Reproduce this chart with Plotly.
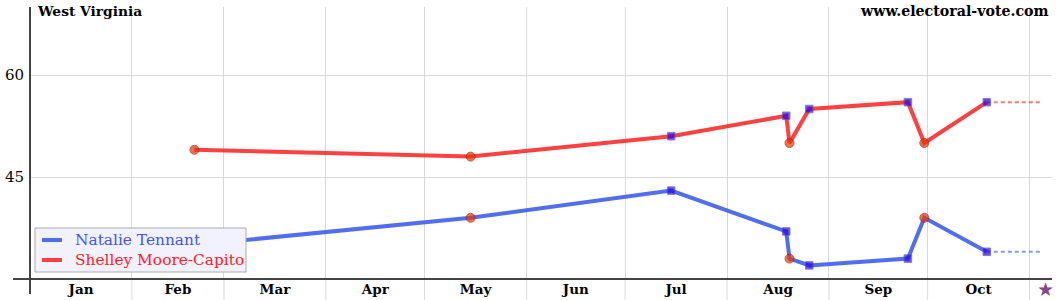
import plotly.graph_objects as go
import pandas as pd

# ---- data ----
poll_dates = ["2014-02-20", "2014-05-15", "2014-07-15", "2014-08-19", "2014-08-20",
              "2014-08-26", "2014-09-25", "2014-09-30", "2014-10-19"]
tennant = [35, 39, 43, 37, 33, 32, 33, 39, 34]
capito = [49, 48, 51, 54, 50, 55, 56, 50, 56]
poll_kind = ["circle", "circle", "square", "square", "circle",
             "square", "square", "circle", "square"]
candidates = ["Natalie Tennant", "Shelley Moore-Capito"]
projection_end = "2014-11-05"
election_day = "2014-11-06"
x_range = ["2014-01-01", "2014-11-07 20:00"]
y_range = [30, 70]
y_ticks = [45, 60]
month_starts = pd.date_range("2014-02-01", "2014-11-01", freq="MS")

FONT = "DejaVu Serif"
BLUE = "rgba(50,85,235,0.85)"
RED = "rgba(255,30,30,0.85)"
BLUE_DASH = "rgba(50,85,235,0.6)"
RED_DASH = "rgba(255,30,30,0.6)"
BLUE_TXT = "#4455ee"
RED_TXT = "#ff2222"
GRID = "#d8d8d8"

PW, PH, ML, MB, MT = 1022, 272, 30, 21, 7
def px_x(p):
    return (p - ML) / PW
def px_y(p):
    return (300 - MB - p) / PH

def marker_style(kinds):
    colors = ["#ee3300" if k == "circle" else "#2a00ee" for k in kinds]
    lines = ["#992211" if k == "circle" else "#4a4ab8" for k in kinds]
    sizes = [9 if k == "circle" else 7.5 for k in kinds]
    return dict(symbol=kinds, color=colors, size=sizes,
                line=dict(color=lines, width=1))

fig = go.Figure()
for vals, col, dcol in [(tennant, BLUE, BLUE_DASH), (capito, RED, RED_DASH)]:
    fig.add_trace(go.Scatter(
        x=[poll_dates[-1], projection_end], y=[vals[-1], vals[-1]],
        mode="lines", line=dict(color=dcol, width=2, dash="4px,3px"),
        showlegend=False, hoverinfo="skip"))
    fig.add_trace(go.Scatter(
        x=poll_dates, y=vals, mode="lines+markers",
        line=dict(color=col, width=4),
        marker=marker_style(poll_kind), showlegend=False))

shapes = []
# vertical gridline extensions below the axis
for m in month_starts:
    shapes.append(dict(type="line", xref="x", yref="paper", x0=m, x1=m,
                       y0=-MB / PH, y1=0, layer="below",
                       line=dict(color=GRID, width=1)))
# axis lines
shapes.append(dict(type="line", xref="paper", yref="paper", x0=px_x(13), x1=1, y0=0, y1=0,
                   line=dict(color="#444444", width=2)))
shapes.append(dict(type="line", xref="paper", yref="paper", x0=0, x1=0, y0=px_y(294), y1=1,
                   line=dict(color="#444444", width=2)))
# legend box
shapes.append(dict(type="rect", xref="paper", yref="paper",
                   x0=px_x(35), x1=px_x(246), y0=px_y(272), y1=px_y(228),
                   fillcolor="#f2f2ff", line=dict(color="#aaaaaa", width=1), layer="above"))
annotations = []
for i, (name, col, tcol) in enumerate(zip(candidates, [BLUE, RED], [BLUE_TXT, RED_TXT])):
    yy = px_y(240 + 20 * i)
    shapes.append(dict(type="line", xref="paper", yref="paper",
                       x0=px_x(42), x1=px_x(62), y0=yy, y1=yy,
                       line=dict(color=col, width=4), layer="above"))
    annotations.append(dict(text=name, xref="paper", yref="paper", x=px_x(73), y=yy,
                            xanchor="left", yanchor="middle", showarrow=False,
                            font=dict(family=FONT, size=15.4, color=tcol)))

annotations += [
    dict(text="<b>West Virginia</b>", xref="paper", yref="paper", x=px_x(35), y=px_y(1),
         xanchor="left", yanchor="top", showarrow=False,
         font=dict(family=FONT, size=13.8, color="black")),
    dict(text="<b>www.electoral-vote.com</b>", xref="paper", yref="paper", x=px_x(1051), y=px_y(1),
         xanchor="right", yanchor="top", showarrow=False,
         font=dict(family=FONT, size=14.2, color="black")),
    dict(text="★", xref="x", yref="paper", x=election_day, y=px_y(289),
         xanchor="center", yanchor="middle", showarrow=False,
         font=dict(family="DejaVu Sans", size=19, color="#884488")),
]

fig.update_layout(
    width=1060, height=300,
    margin=dict(l=ML, r=8, t=MT, b=MB),
    plot_bgcolor="white", paper_bgcolor="white",
    font=dict(family=FONT, size=14, color="black"),
    showlegend=False,
    xaxis=dict(type="date", range=x_range, dtick="M1", tick0="2014-01-01",
               ticklabelmode="period", tickformat="%b", automargin=False,
               showgrid=True, gridcolor=GRID, gridwidth=1,
               ticks="", showline=False, zeroline=False,
               tickfont=dict(family=FONT, size=13.5, color="black", weight="bold")),
    yaxis=dict(range=y_range, tickvals=y_ticks, showgrid=True, gridcolor=GRID,
               zeroline=False, showline=False, ticks="", ticklabelstandoff=5,
               automargin=False,
               tickfont=dict(family=FONT, size=15, color="black")),
    shapes=shapes,
    annotations=annotations,
)

fig.write_html("out.html")
